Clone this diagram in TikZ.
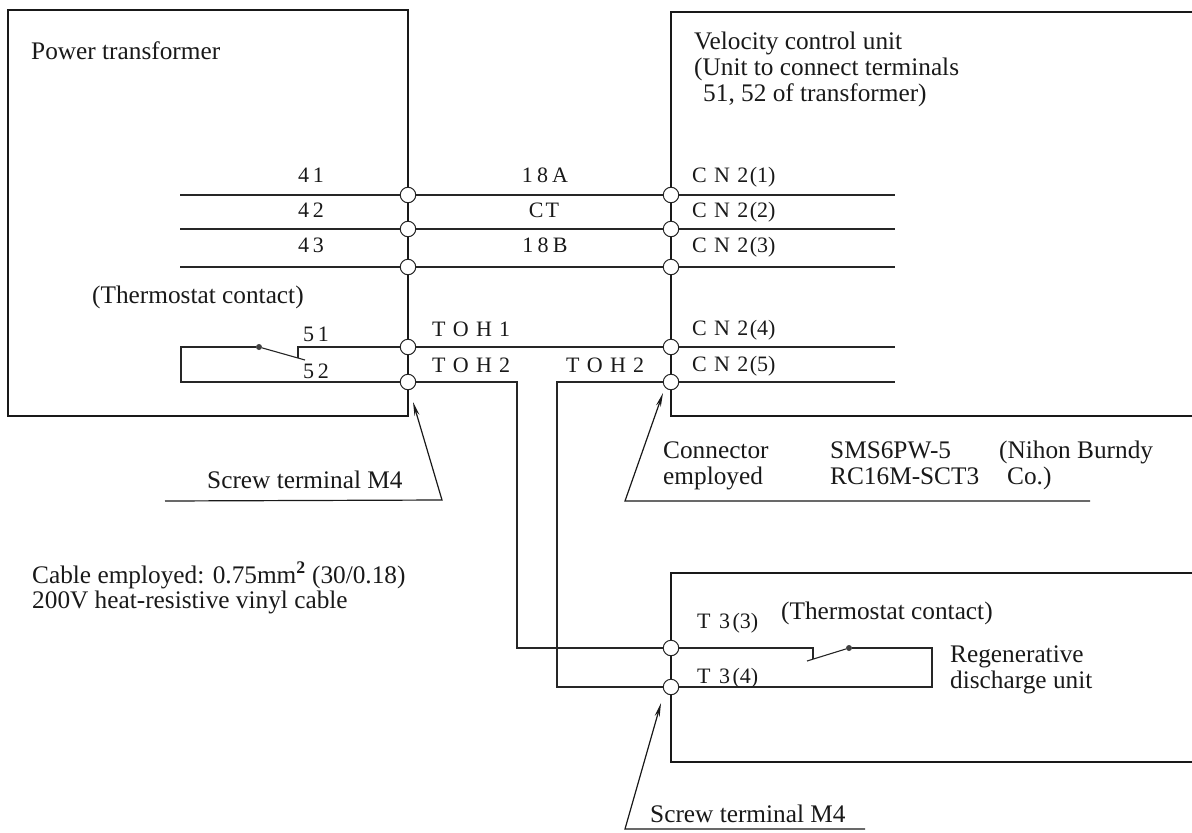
\documentclass[tikz,border=0pt]{standalone}
\usepackage{fontspec}
\setmainfont{Liberation Serif}
\usetikzlibrary{arrows.meta}
\newcommand{\gp}[1][.33em]{\hspace{#1}}
\tikzset{
  x=1pt,y=-1pt,
  wire/.style={draw=black!85,line width=1.1pt},
  frame/.style={draw=black!90,line width=1.5pt},
  term/.style={circle,draw=black!85,fill=white,line width=1pt,minimum size=15.5pt,inner sep=0pt},
  lbl/.style={font=\fontsize{25.3}{28}\selectfont,text=black!90,inner sep=0pt,anchor=base west},
  slbl/.style={font=\fontsize{22}{24}\selectfont,text=black!90,inner sep=0pt,anchor=base west},
  clbl/.style={font=\fontsize{22}{24}\selectfont,text=black!90,inner sep=0pt,anchor=base},
  pdot/.style={circle,fill=black!75,minimum size=6pt,inner sep=0pt},
  lead/.style={draw=black!90,line width=1.2pt},
  leadarrow/.style={lead,-{Stealth[length=14pt,width=5pt]}},
}
\begin{document}
\begin{tikzpicture}
\useasboundingbox (0,0) rectangle (1192,833);
% corners of frames and free wire ends
\coordinate (pA) at (408,10); \coordinate (pB) at (8,10); \coordinate (pC) at (8,416); \coordinate (pD) at (408,416);
\coordinate (vA) at (1192,12); \coordinate (vB) at (671,12); \coordinate (vC) at (671,416); \coordinate (vD) at (1192,416);
\coordinate (rA) at (1192,573); \coordinate (rB) at (671,573); \coordinate (rC) at (671,762); \coordinate (rD) at (1192,762);
% terminals
\node[term] (p1) at (408,195) {};
\node[term] (p2) at (408,229) {};
\node[term] (p3) at (408,267) {};
\node[term] (p4) at (408,347) {};
\node[term] (p5) at (408,382) {};
\node[term] (v1) at (671,195) {};
\node[term] (v2) at (671,229) {};
\node[term] (v3) at (671,267) {};
\node[term] (v4) at (671,347) {};
\node[term] (v5) at (671,382) {};
\node[term] (r3) at (671,648) {};
\node[term] (r4) at (671,687) {};
% frames
\draw[frame] (p1)--(pA)--(pB)--(pC)--(pD)--(p5);
\draw[frame] (p1)--(p2); \draw[frame] (p2)--(p3); \draw[frame] (p3)--(p4); \draw[frame] (p4)--(p5);
\draw[frame] (v1)--(vB)--(vA);
\draw[frame] (v5)--(vC)--(vD);
\draw[frame] (v1)--(v2); \draw[frame] (v2)--(v3); \draw[frame] (v3)--(v4); \draw[frame] (v4)--(v5);
\draw[frame] (r3)--(rB)--(rA);
\draw[frame] (r4)--(rC)--(rD);
\draw[frame] (r3)--(r4);
% free ends of wires
\coordinate (e1) at (180,195); \coordinate (e2) at (180,229); \coordinate (e3) at (180,267);
\coordinate (f1) at (895,195); \coordinate (f2) at (895,229); \coordinate (f3) at (895,267);
\coordinate (f4) at (895,347); \coordinate (f5) at (895,382);
\foreach \i in {1,2,3}{
  \draw[wire] (e\i)--(p\i);
  \draw[wire] (p\i)--(v\i);
  \draw[wire] (v\i)--(f\i);
}
\draw[wire] (p4)--(v4);
\draw[wire] (v4)--(f4);
\draw[wire] (v5)--(f5);
% cross wires
\coordinate (c1) at (517,382); \coordinate (c2) at (517,648);
\coordinate (c3) at (557,382); \coordinate (c4) at (557,687);
\draw[wire] (p5)--(c1)--(c2)--(r3);
\draw[wire] (v5)--(c3)--(c4)--(r4);
% thermostat left
\node[pdot] (dl) at (259,347) {};
\coordinate (l1) at (298,347); \coordinate (l2) at (298,358); \coordinate (l3) at (305,360);
\coordinate (l4) at (181,347); \coordinate (l5) at (181,382);
\draw[wire] (p4)--(l1)--(l2);
\draw[wire] (dl)--(l3);
\draw[wire] (dl)--(l4)--(l5)--(p5);
% thermostat right
\node[pdot] (dr) at (849,648) {};
\coordinate (t1) at (813,648); \coordinate (t2) at (813,659); \coordinate (t3) at (807,661);
\coordinate (t4) at (932,648); \coordinate (t5) at (932,687);
\draw[wire] (r3)--(t1)--(t2);
\draw[wire] (t3)--(dr);
\draw[wire] (dr)--(t4)--(t5)--(r4);
% leaders
\coordinate (a1) at (165,501); \coordinate (a2) at (442,500); \coordinate (a3) at (413,402);
\draw[leadarrow] (a1)--(a2)--(a3);
\coordinate (b1) at (1090,501); \coordinate (b2) at (625,501); \coordinate (b3) at (663,393);
\draw[leadarrow] (b1)--(b2)--(b3);
\coordinate (d1) at (865,829); \coordinate (d2) at (625,829); \coordinate (d3) at (661,703);
\draw[leadarrow] (d1)--(d2)--(d3);
% labels
\node[lbl] (tPower) at (31,59) {Power transformer};
\node[lbl] (tVel1) at (694,49) {Velocity control unit};
\node[lbl] (tVel2) at (694,75) {(Unit to connect terminals};
\node[lbl] (tVel3) at (703,101) {51, 52 of transformer)};
\node[clbl] (n41) at (311,182) {4\gp[.18em]1};
\node[clbl] (n42) at (311,217) {4\gp[.18em]2};
\node[clbl] (n43) at (311,252) {4\gp[.18em]3};
\node[clbl] (n18a) at (545,182) {1\gp[.19em]8\gp[.19em]A};
\node[clbl] (nct) at (544,217) {C\gp[.1em]T};
\node[clbl] (n18b) at (545,252) {1\gp[.19em]8\gp[.19em]B};
\node[slbl] (cn1) at (692,182) {C\gp N\gp 2\gp[.07em](1)};
\node[slbl] (cn2) at (692,217) {C\gp N\gp 2\gp[.07em](2)};
\node[slbl] (cn3) at (692,252) {C\gp N\gp 2\gp[.07em](3)};
\node[slbl] (cn4) at (692,335) {C\gp N\gp 2\gp[.07em](4)};
\node[slbl] (cn5) at (692,371) {C\gp N\gp 2\gp[.07em](5)};
\node[lbl] (tTh1) at (92,303) {(Thermostat contact)};
\node[clbl] (n51) at (316,341) {5\gp[.18em]1};
\node[clbl] (n52) at (316,378) {5\gp[.18em]2};
\node[slbl] (toh1) at (432,336) {T\gp O\gp H\gp 1};
\node[slbl] (toh2) at (432,372) {T\gp O\gp H\gp 2};
\node[slbl] (toh3) at (566,372) {T\gp O\gp H\gp 2};
\node[lbl] (tScr1) at (207,488) {Screw terminal M4};
\node[lbl] (tCab1) at (32,583) {Cable employed: 0.75mm\textsuperscript{\textbf{2}} (30/0.18)};
\node[lbl] (tCab2) at (32,608) {200V heat-resistive vinyl cable};
\node[lbl] (tCon1) at (663,458) {Connector};
\node[lbl] (tCon2) at (663,484) {employed};
\node[lbl] (tSms) at (830,458) {SMS6PW-5};
\node[lbl] (tRc) at (830,484) {RC16M-SCT3};
\node[lbl] (tNih) at (999,458) {(Nihon Burndy};
\node[lbl] (tCo) at (1007,484) {Co.)};
\node[slbl] (t33) at (697,628) {T\gp[.38em]3\gp[.12em](3)};
\node[slbl] (t34) at (697,683) {T\gp[.38em]3\gp[.12em](4)};
\node[lbl] (tTh2) at (781,619) {(Thermostat contact)};
\node[lbl] (tReg1) at (950,662) {Regenerative};
\node[lbl] (tReg2) at (950,688) {discharge unit};
\node[lbl] (tScr2) at (650,822) {Screw terminal M4};
\end{tikzpicture}
\end{document}
